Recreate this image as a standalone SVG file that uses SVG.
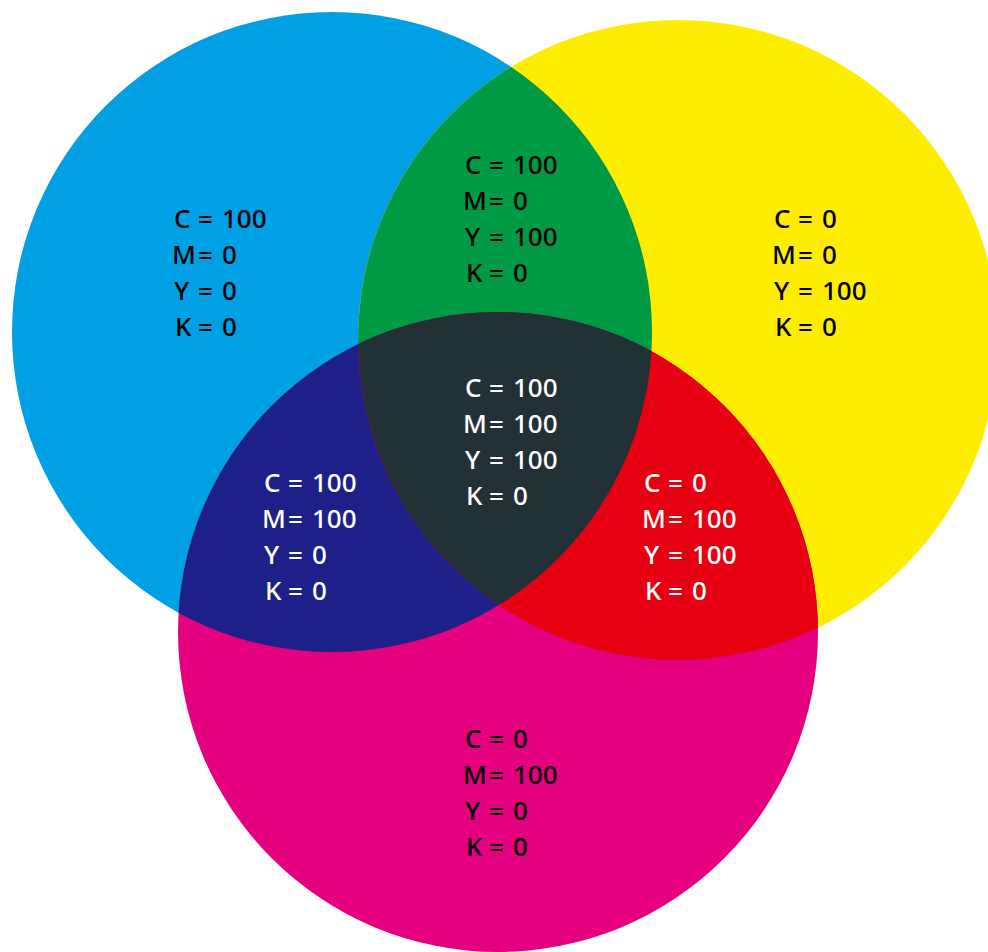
<svg xmlns="http://www.w3.org/2000/svg" width="988" height="952" viewBox="0 0 988 952">
<style>
text{font-family:"Noto Sans","Open Sans","Liberation Sans",sans-serif;font-size:26px;font-weight:500}
.k{fill:#000}
.w{fill:#fff}
</style>
<defs>
<clipPath id="cc"><circle cx="332" cy="332" r="320"/></clipPath>
<clipPath id="cy"><circle cx="678" cy="340" r="320"/></clipPath>
<clipPath id="ccy" clip-path="url(#cc)"><circle cx="678" cy="340" r="320"/></clipPath>
</defs>
<rect width="988" height="952" fill="#fff"/>
<g id="cyan">
<circle cx="332" cy="332" r="320" fill="#00A0E4"/>
</g>
<g id="yellow">
<circle cx="678" cy="340" r="320" fill="#FFED00"/>
</g>
<g id="magenta">
<circle cx="498" cy="632" r="320" fill="#E4007F"/>
</g>
<g id="green">
<circle cx="678" cy="340" r="320" fill="#009A44" clip-path="url(#cc)"/>
</g>
<g id="blue">
<circle cx="498" cy="632" r="320" fill="#1D2088" clip-path="url(#cc)"/>
</g>
<g id="red">
<circle cx="498" cy="632" r="320" fill="#E60012" clip-path="url(#cy)"/>
</g>
<g id="black">
<circle cx="498" cy="632" r="320" fill="#213136" clip-path="url(#ccy)"/>
</g>
<g id="labels">
<g class="k">
<text y="228"><tspan x="174">C</tspan><tspan x="198">=</tspan><tspan x="222">100</tspan></text>
<text y="264"><tspan x="172">M</tspan><tspan x="198">=</tspan><tspan x="222">0</tspan></text>
<text y="300"><tspan x="174">Y</tspan><tspan x="198">=</tspan><tspan x="222">0</tspan></text>
<text y="336"><tspan x="175">K</tspan><tspan x="198">=</tspan><tspan x="222">0</tspan></text>
</g>
<g class="k">
<text y="174"><tspan x="465">C</tspan><tspan x="489">=</tspan><tspan x="513">100</tspan></text>
<text y="210"><tspan x="463">M</tspan><tspan x="489">=</tspan><tspan x="513">0</tspan></text>
<text y="246"><tspan x="465">Y</tspan><tspan x="489">=</tspan><tspan x="513">100</tspan></text>
<text y="282"><tspan x="466">K</tspan><tspan x="489">=</tspan><tspan x="513">0</tspan></text>
</g>
<g class="k">
<text y="228"><tspan x="774">C</tspan><tspan x="798">=</tspan><tspan x="822">0</tspan></text>
<text y="264"><tspan x="772">M</tspan><tspan x="798">=</tspan><tspan x="822">0</tspan></text>
<text y="300"><tspan x="774">Y</tspan><tspan x="798">=</tspan><tspan x="822">100</tspan></text>
<text y="336"><tspan x="775">K</tspan><tspan x="798">=</tspan><tspan x="822">0</tspan></text>
</g>
<g class="w">
<text y="397"><tspan x="465">C</tspan><tspan x="489">=</tspan><tspan x="513">100</tspan></text>
<text y="433"><tspan x="463">M</tspan><tspan x="489">=</tspan><tspan x="513">100</tspan></text>
<text y="469"><tspan x="465">Y</tspan><tspan x="489">=</tspan><tspan x="513">100</tspan></text>
<text y="505"><tspan x="466">K</tspan><tspan x="489">=</tspan><tspan x="513">0</tspan></text>
</g>
<g class="w">
<text y="492"><tspan x="264">C</tspan><tspan x="288">=</tspan><tspan x="312">100</tspan></text>
<text y="528"><tspan x="262">M</tspan><tspan x="288">=</tspan><tspan x="312">100</tspan></text>
<text y="564"><tspan x="264">Y</tspan><tspan x="288">=</tspan><tspan x="312">0</tspan></text>
<text y="600"><tspan x="265">K</tspan><tspan x="288">=</tspan><tspan x="312">0</tspan></text>
</g>
<g class="w">
<text y="492"><tspan x="644">C</tspan><tspan x="668">=</tspan><tspan x="692">0</tspan></text>
<text y="528"><tspan x="642">M</tspan><tspan x="668">=</tspan><tspan x="692">100</tspan></text>
<text y="564"><tspan x="644">Y</tspan><tspan x="668">=</tspan><tspan x="692">100</tspan></text>
<text y="600"><tspan x="645">K</tspan><tspan x="668">=</tspan><tspan x="692">0</tspan></text>
</g>
<g class="k">
<text y="748"><tspan x="465">C</tspan><tspan x="489">=</tspan><tspan x="513">0</tspan></text>
<text y="784"><tspan x="463">M</tspan><tspan x="489">=</tspan><tspan x="513">100</tspan></text>
<text y="820"><tspan x="465">Y</tspan><tspan x="489">=</tspan><tspan x="513">0</tspan></text>
<text y="856"><tspan x="466">K</tspan><tspan x="489">=</tspan><tspan x="513">0</tspan></text>
</g>
</g>
</svg>
